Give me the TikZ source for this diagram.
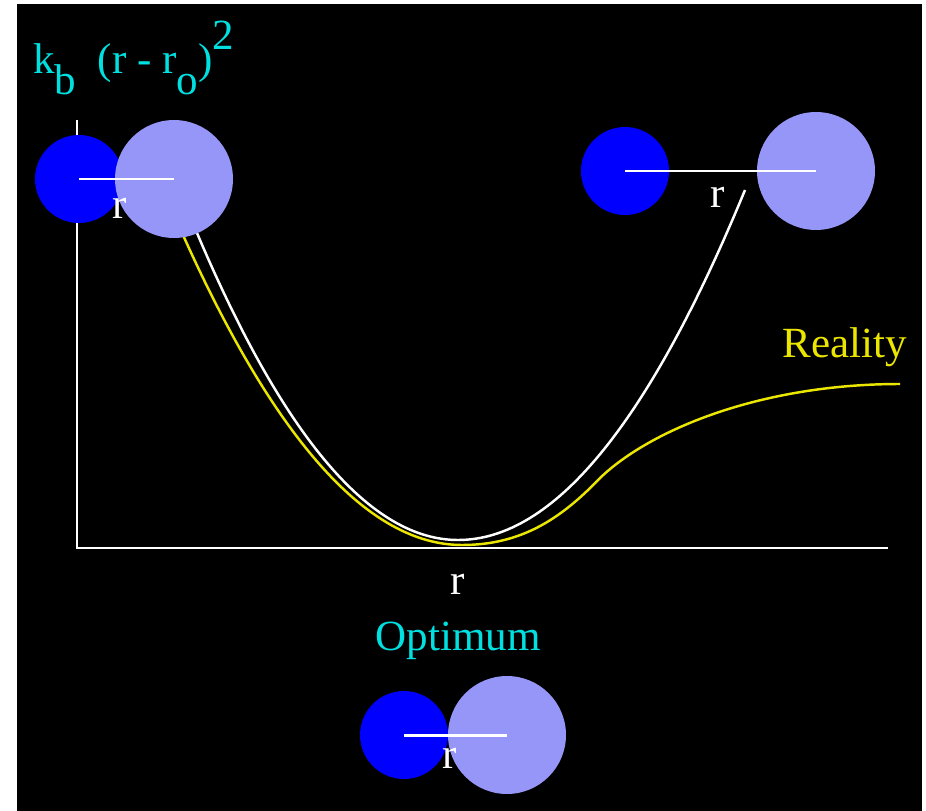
\documentclass[tikz,border=0pt]{standalone}
\usepackage{fontspec}
\setmainfont{Liberation Serif}
\definecolor{labelcyan}{RGB}{0,224,224}
\definecolor{lightatom}{RGB}{150,150,248}
\definecolor{realyellow}{RGB}{235,230,0}
\begin{document}
\begin{tikzpicture}[
   x=0.02cm,y=-0.02cm,
   small/.style={circle,fill=blue,inner sep=0pt,minimum size=1.76cm},
   large/.style={circle,fill=lightatom,inner sep=0pt,minimum size=2.36cm},
   bond/.style={white,line width=1.7pt},
   axis/.style={white,line width=1.7pt},
   curve/.style={line width=1.4pt},
   lbl/.style={anchor=base,white},
   every node/.style={font=\fontsize{24.5}{29}\selectfont}
 ]
  \useasboundingbox (0,0) rectangle (926,811);
  \fill[black] (17,4) rectangle (922,811);
  \coordinate (origin) at (77,548);
  \coordinate (ytop) at (77,120);
  \coordinate (xend) at (888,548);
  \draw[axis] (ytop)--(origin)--(xend);
  \draw[curve,realyellow] (183,235) .. controls (276,442) and (369,545) .. (462,545)
    .. controls (520,545) and (560,520) .. (600,478)
    .. controls (650,430) and (760,384) .. (900,384);
  \draw[curve,white] (197,233) .. controls (284,438) and (371,540) .. (458,540)
    .. controls (554,540) and (649,423) .. (745,190);
  \node[small] (a1) at (79,179) {};
  \node[large] (b1) at (174,179) {};
  \draw[bond] (a1.center)--(b1.center);
  \node[lbl] (r1) at (120,218) {r};
  \node[small] (a2) at (625,171) {};
  \node[large] (b2) at (816,171) {};
  \draw[bond] (a2.center)--(b2.center);
  \node[lbl] (r2) at (718,207) {r};
  \node[small] (a3) at (404,735) {};
  \node[large] (b3) at (507,735) {};
  \draw[bond] (a3.center)--(b3.center);
  \node[lbl] (r3) at (450,768) {r};
  \node[lbl] (raxis) at (458,594) {r};
  \node[labelcyan,anchor=base] (opt) at (458,650) {Optimum};
  \node[realyellow,anchor=base] (real) at (845,357) {Reality};
  \node[labelcyan,anchor=base west,inner sep=0pt] (energy) at (33,73)
    {k\raisebox{-0.5em}{b}\hspace{0.5em}(r - r\raisebox{-0.5em}{o})\raisebox{0.55em}{2}};
\end{tikzpicture}
\end{document}
